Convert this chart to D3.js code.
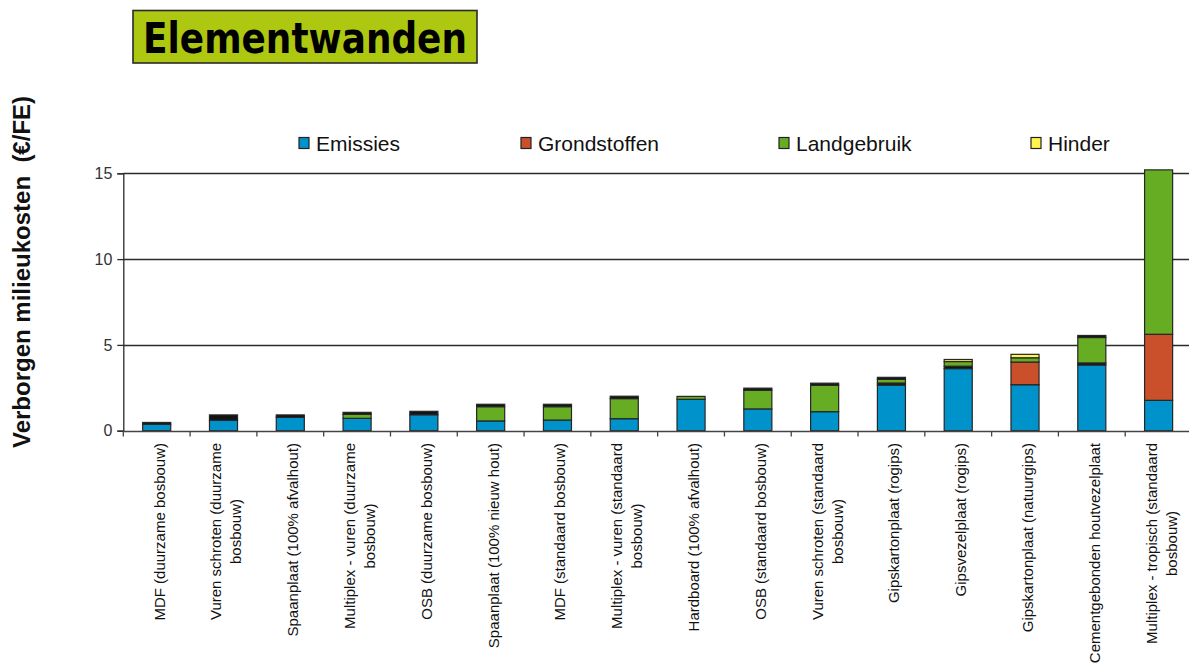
<!DOCTYPE html>
<html>
<head>
<meta charset="utf-8">
<script src="https://cdn.jsdelivr.net/npm/d3@7"></script>
<style>
  html, body { margin: 0; padding: 0; background: #fff; }
  svg { display: block; }
</style>
</head>
<body>
<svg id="chart" width="1189" height="666"></svg>
<script>
// ---------- DATA ----------
const title = "Elementwanden";
const yAxisTitle = "Verborgen milieukosten  (€/FE)";
const categories = [
  "MDF (duurzame bosbouw)",
  "Vuren schroten (duurzame\nbosbouw)",
  "Spaanplaat (100% afvalhout)",
  "Multiplex - vuren (duurzame\nbosbouw)",
  "OSB (duurzame bosbouw)",
  "Spaanplaat (100% nieuw hout)",
  "MDF (standaard bosbouw)",
  "Multiplex - vuren (standaard\nbosbouw)",
  "Hardboard (100% afvalhout)",
  "OSB (standaard bosbouw)",
  "Vuren schroten (standaard\nbosbouw)",
  "Gipskartonplaat (rogips)",
  "Gipsvezelplaat (rogips)",
  "Gipskartonplaat (natuurgips)",
  "Cementgebonden houtvezelplaat",
  "Multiplex - tropisch (standaard\nbosbouw)"
];
const emissies     = [0.38, 0.61, 0.78, 0.72, 0.93, 0.57, 0.62, 0.70, 1.83, 1.27, 1.11, 2.66, 3.62, 2.68, 3.83, 1.77];
const grondstoffen = [0, 0, 0, 0, 0, 0, 0, 0, 0, 0, 0, 0, 0, 1.32, 0, 3.85];
const overigOnder  = [0, 0, 0, 0, 0, 0, 0, 0, 0, 0, 0, 0.12, 0.14, 0, 0.12, 0];
const landgebruik  = [0, 0, 0, 0.23, 0, 0.83, 0.78, 1.17, 0.17, 1.09, 1.54, 0.21, 0.27, 0.25, 1.48, 9.58];
const hinder       = [0, 0, 0, 0, 0, 0, 0, 0, 0, 0, 0, 0, 0.12, 0.20, 0, 0];
const overigBoven  = [0.10, 0.31, 0.14, 0.12, 0.20, 0.14, 0.14, 0.14, 0, 0.12, 0.12, 0.12, 0, 0, 0.12, 0];
const yTicks = [0, 5, 10, 15];
const legendLabels = ["Emissies", "Grondstoffen", "Landgebruik", "Hinder"];

// ---------- SETUP ----------
const svg = d3.select("#chart");
const margin = { left: 123.3, right: 1192, top: 173.3, bottom: 430.7 };

const seriesKeys = ["emissies", "grondstoffen", "overigOnder", "landgebruik", "hinder", "overigBoven"];
const seriesArrays = { emissies, grondstoffen, overigOnder, landgebruik, hinder, overigBoven };
const colors = {
  emissies: "#0092CA",
  grondstoffen: "#C9502B",
  overigOnder: "#141414",
  landgebruik: "#67AD24",
  hinder: "#FFF350",
  overigBoven: "#141414"
};
const legendColors = [colors.emissies, colors.grondstoffen, colors.landgebruik, colors.hinder];

const table = categories.map((c, i) => {
  const row = { cat: c };
  seriesKeys.forEach(k => row[k] = seriesArrays[k][i]);
  return row;
});

const x = d3.scaleBand()
  .domain(categories)
  .range([margin.left, margin.right])
  .paddingInner(0.58)
  .paddingOuter(0.29);

const y = d3.scaleLinear().domain([0, 15]).range([margin.bottom, margin.top]);

// ---------- TITLE ----------
svg.append("rect")
  .attr("x", 133).attr("y", 10.5).attr("width", 344).attr("height", 52.5)
  .attr("fill", "#AEC811").attr("stroke", "#2a2a2a").attr("stroke-width", 1.6);
svg.append("text")
  .attr("x", 143).attr("y", 53)
  .attr("font-family", "'DejaVu Sans', Verdana, sans-serif")
  .attr("font-weight", "bold").attr("font-size", 43)
  .attr("textLength", 324).attr("lengthAdjust", "spacingAndGlyphs")
  .attr("fill", "#000")
  .text(title);

// ---------- Y AXIS TITLE ----------
svg.append("text")
  .attr("transform", "translate(30,272) rotate(-90)")
  .attr("text-anchor", "middle")
  .attr("font-family", "'Liberation Sans', Arial, sans-serif")
  .attr("font-weight", "bold").attr("font-size", 24)
  .style("white-space", "pre")
  .attr("fill", "#111")
  .text(yAxisTitle);

// ---------- GRID ----------
svg.append("g").selectAll("line")
  .data(yTicks.filter(t => t > 0))
  .join("line")
  .attr("x1", margin.left).attr("x2", 1189)
  .attr("y1", d => Math.round(y(d)) + 0.5).attr("y2", d => Math.round(y(d)) + 0.5)
  .attr("stroke", "#2b2b2b").attr("stroke-width", 1.3);

// ---------- Y AXIS ----------
const yAxis = d3.axisLeft(y).tickValues(yTicks).tickSize(6).tickPadding(5).tickFormat(d3.format("d"));
const gy = svg.append("g").attr("transform", `translate(${margin.left},0)`).call(yAxis);
gy.select(".domain").attr("stroke", "#2b2b2b").attr("stroke-width", 1.3);
gy.selectAll(".tick line").attr("stroke", "#2b2b2b").attr("stroke-width", 1.3);
gy.selectAll(".tick text")
  .attr("font-family", "'Liberation Sans', Arial, sans-serif")
  .attr("font-size", 16).attr("fill", "#333");

// ---------- BARS ----------
const stack = d3.stack().keys(seriesKeys);
const stacked = stack(table);

const barsG = svg.append("g");
stacked.forEach(layer => {
  barsG.append("g")
    .attr("fill", colors[layer.key])
    .selectAll("rect")
    .data(layer.filter(d => d[1] - d[0] > 0))
    .join("rect")
    .attr("x", d => x(d.data.cat))
    .attr("width", x.bandwidth())
    .attr("y", d => y(d[1]))
    .attr("height", d => y(d[0]) - y(d[1]))
    .attr("stroke", "#262626").attr("stroke-width", 1.2);
});

// ---------- X AXIS ----------
const baseY = Math.round(y(0)) + 0.5;
svg.append("line")
  .attr("x1", margin.left).attr("x2", 1189)
  .attr("y1", baseY).attr("y2", baseY)
  .attr("stroke", "#444").attr("stroke-width", 1.4);

const step = x.step();
const tickXs = categories.map((c, i) => margin.left + i * step).concat([margin.left + categories.length * step]);
svg.append("g").selectAll("line")
  .data(tickXs)
  .join("line")
  .attr("x1", d => d).attr("x2", d => d)
  .attr("y1", baseY).attr("y2", baseY + 5)
  .attr("stroke", "#444").attr("stroke-width", 1.3);

// rotated category labels
const labG = svg.append("g")
  .attr("font-family", "'Liberation Sans', Arial, sans-serif")
  .attr("font-size", 15).attr("fill", "#111");

categories.forEach(c => {
  const cx = x(c) + x.bandwidth() / 2;
  const lines = c.split("\n");
  const g = labG.append("g").attr("transform", `translate(${cx + 2.5},443) rotate(-90)`);
  const texts = lines.map((ln, i) =>
    g.append("text")
      .attr("y", (i - (lines.length - 1) / 2) * 20)
      .attr("dominant-baseline", "central")
      .text(ln));
  const L = d3.max(texts, t => t.node().getComputedTextLength());
  texts.forEach(t => t.attr("x", -L / 2).attr("text-anchor", "middle"));
});

// ---------- LEGEND ----------
const legendSquareX = [299, 521, 779, 1031];
const legendG = svg.append("g");
legendLabels.forEach((lab, i) => {
  legendG.append("rect")
    .attr("x", legendSquareX[i]).attr("y", 137.5)
    .attr("width", 10).attr("height", 11)
    .attr("fill", legendColors[i]).attr("stroke", "#222").attr("stroke-width", 1.2);
  legendG.append("text")
    .attr("x", legendSquareX[i] + 17).attr("y", 150.5)
    .attr("font-family", "'Liberation Sans', Arial, sans-serif")
    .attr("font-size", 21).attr("fill", "#111")
    .text(lab);
});
</script>
</body>
</html>
